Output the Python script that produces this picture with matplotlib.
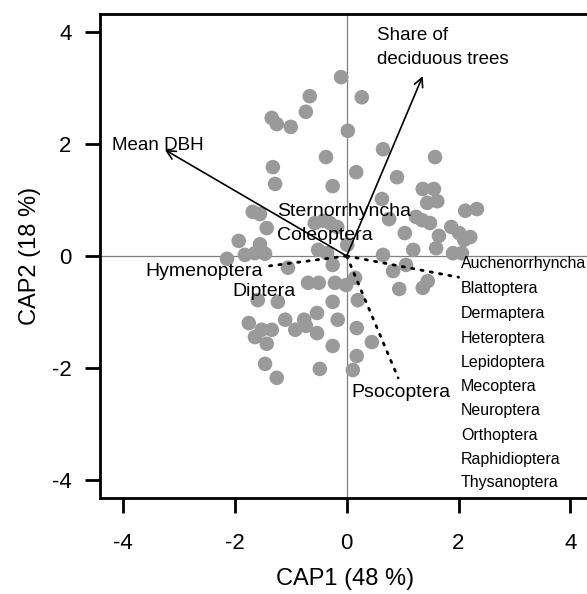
import matplotlib
matplotlib.use("Agg")
import matplotlib.pyplot as plt

plt.rcParams['font.family'] = ['Liberation Sans', 'DejaVu Sans']

# Site scores (CAP1, CAP2)
site_x = [-0.10, 0.27, -0.66, -0.73, -1.34, -1.25, -1.00, 0.02, 0.65, 1.58,
          -0.37, -1.32, 0.17, 0.90, -1.28, -0.25, 1.36, 1.56, 0.63, 1.44,
          1.62, 2.12, 2.33, -1.68, -1.55, 0.76, 1.24, 1.35, 1.49, -0.57,
          -0.42, -0.30, -0.17, -1.43, 1.87, 2.01, 2.21, 2.10, 1.04, 1.65,
          -1.93, -1.55, 0.01, 1.19, 1.60, 1.90, 2.06, 0.65, -0.51, -0.35,
          -1.82, -1.64, -1.46, -2.14, -1.05, -0.25, 1.06, 0.83, -0.69, -0.50,
          -0.21, -0.01, 0.15, 1.36, 1.45, 0.94, -1.59, -1.23, -0.25, -0.53,
          -1.10, -0.76, -0.16, -1.75, -1.52, -1.34, -0.92, -0.73, -1.64, -1.43,
          -0.53, -0.25, -1.46, -0.48, -1.25, 0.20, 0.18, 0.45, 0.18, 0.11]
site_y = [3.20, 2.84, 2.86, 2.58, 2.47, 2.36, 2.31, 2.24, 1.91, 1.77,
          1.77, 1.59, 1.50, 1.41, 1.29, 1.25, 1.20, 1.20, 1.02, 0.95,
          0.98, 0.81, 0.84, 0.79, 0.75, 0.66, 0.70, 0.64, 0.59, 0.59,
          0.63, 0.59, 0.52, 0.50, 0.52, 0.41, 0.34, 0.29, 0.41, 0.36,
          0.27, 0.21, 0.20, 0.11, 0.14, 0.05, 0.05, 0.02, 0.11, 0.05,
          0.02, 0.05, 0.04, -0.05, -0.21, -0.16, -0.16, -0.27, -0.48, -0.48,
          -0.48, -0.52, -0.39, -0.57, -0.45, -0.59, -0.79, -0.82, -0.82, -1.02,
          -1.14, -1.14, -1.14, -1.20, -1.32, -1.32, -1.32, -1.25, -1.45, -1.57,
          -1.38, -1.61, -1.93, -2.02, -2.18, -0.79, -1.29, -1.54, -1.79, -2.04]

# Environmental vectors (arrows)
env_names = ["Mean DBH", "Share of\ndeciduous trees"]
env_x = [-3.25, 1.36]
env_y = [1.90, 3.22]

# Taxon vectors (dotted)
taxon_vec_x = [-1.40, 2.00, 0.92]
taxon_vec_y = [-0.18, -0.38, -2.18]

# Taxon labels
list_names = ["Auchenorrhyncha", "Blattoptera", "Dermaptera", "Heteroptera",
              "Lepidoptera", "Mecoptera", "Neuroptera", "Orthoptera",
              "Raphidioptera", "Thysanoptera"]
list_y = [-0.14, -0.59, -1.02, -1.47, -1.90, -2.33, -2.76, -3.21, -3.64, -4.06]

xticks = [-4, -2, 0, 2, 4]
yticks = [-4, -2, 0, 2, 4]

W, H = 587, 594
fig = plt.figure(figsize=(W / 100, H / 100), dpi=100)
ax = fig.add_axes([99.5 / W, (H - 498) / H, 491 / W, 484 / H])
ax.set_xlim(-4.42, 4.36)
ax.set_ylim(-4.33, 4.33)

ax.axhline(0, color='#808080', lw=0.9, zorder=1)
ax.axvline(0, color='#808080', lw=0.9, zorder=1)

ax.scatter(site_x, site_y, s=110, color='#9a9a9a', edgecolors='none', zorder=2)

for vx, vy in zip(taxon_vec_x, taxon_vec_y):
    ax.plot([0, vx], [0, vy], color='black', lw=2.0, ls=(0, (0.8, 2.6)),
            dash_capstyle='round', zorder=3)

for ex, ey in zip(env_x, env_y):
    ax.annotate('', xy=(ex, ey), xytext=(0, 0),
                arrowprops=dict(arrowstyle='->', lw=1.2, color='black',
                                mutation_scale=16, shrinkA=0, shrinkB=0),
                zorder=4)

ax.text(-4.20, 1.97, env_names[0], fontsize=13.5, ha='left', va='center', zorder=5)
ax.text(0.54, 3.95, env_names[1].split('\n')[0], fontsize=13.5, ha='left', va='center', zorder=5)
ax.text(0.54, 3.51, env_names[1].split('\n')[1], fontsize=13.5, ha='left', va='center', zorder=5)

ax.text(-1.25, 0.80, "Sternorrhyncha", fontsize=14, ha='left', va='center', zorder=5)
ax.text(-1.25, 0.36, "Coleoptera", fontsize=14, ha='left', va='center', zorder=5)
ax.text(-1.49, -0.27, "Hymenoptera", fontsize=14, ha='right', va='center', zorder=5)
ax.text(-2.05, -0.64, "Diptera", fontsize=14, ha='left', va='center', zorder=5)
ax.text(0.08, -2.45, "Psocoptera", fontsize=14, ha='left', va='center', zorder=5)

for name, yy in zip(list_names, list_y):
    ax.text(2.04, yy, name, fontsize=11.5, ha='left', va='center', zorder=5)

ax.set_xticks(xticks)
ax.set_yticks(yticks)
ax.set_xticklabels([str(t) for t in xticks])
ax.set_yticklabels([str(t) for t in yticks])
ax.tick_params(axis='both', length=11, width=2, labelsize=16, direction='out')
ax.tick_params(axis='x', pad=14)
ax.tick_params(axis='y', pad=9)
for sp in ax.spines.values():
    sp.set_linewidth(2)

ax.set_xlabel("CAP1 (48 %)", fontsize=17, labelpad=10)
ax.set_ylabel("CAP2 (18 %)", fontsize=17, labelpad=8)

fig.savefig("out.png", dpi=100)
